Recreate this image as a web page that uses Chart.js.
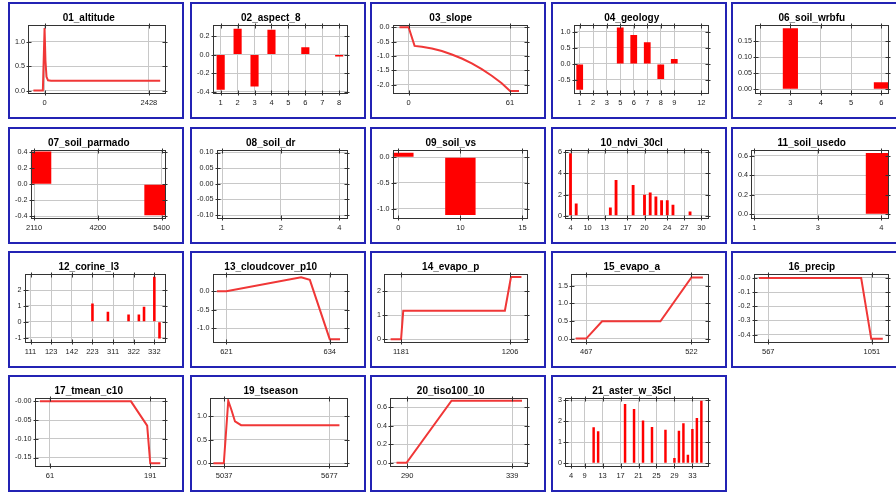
<!DOCTYPE html>
<html><head><meta charset="utf-8">
<script src="https://cdn.jsdelivr.net/npm/chart.js@4/dist/chart.umd.min.js"></script>
<style>
html,body{margin:0;padding:0;width:896px;height:492px;overflow:hidden;background:#fff;}
.panel{position:absolute;width:172px;height:113px;border:2px solid rgb(35,35,180);background:#fff;}
.panel canvas{display:block;}
</style></head><body>
<script>
// ---------- data ----------
// 01_altitude (line)
const altitudeX = [-260, -40, 0, 20, 45, 80, 150, 2690];
const altitudeY = [0, 0, 1.28, 0.62, 0.28, 0.21, 0.2, 0.2];
const altitudeXTicks = [0, 2428];
const altitudeYTicks = [0, 0.5, 1.0];
// 02_aspect_8 (bars)
const aspectCats = ['1','2','3','4','5','6','7','8'];
const aspectVals = [-0.38, 0.28, -0.345, 0.27, 0, 0.08, 0, -0.02];
const aspectTicks = ['1','2','3','4','5','6','7','8'];
const aspectYTicks = [-0.4, -0.2, 0, 0.2];
// 03_slope (line)
const slopeX = [-5.5, 0, 3.6, 8, 14, 20, 26, 32, 38, 44, 50, 56, 61, 66.4];
const slopeY = [0, 0, -0.65, -0.68, -0.74, -0.83, -0.95, -1.09, -1.26, -1.46, -1.69, -1.95, -2.22, -2.22];
const slopeXTicks = [0, 61];
const slopeYTicks = [-2.0, -1.5, -1.0, -0.5, 0];
// 04_geology (bars)
const geologyCats = ['1','2','3','5','6','7','8','9','11','12'];
const geologyVals = [-0.8, 0, 0, 1.13, 0.9, 0.67, -0.47, 0.15, 0, 0];
const geologyTicks = ['1','2','3','5','6','7','8','9','12'];
const geologyYTicks = [-0.5, 0, 0.5, 1.0];
// 06_soil_wrbfu (bars)
const wrbfuCats = ['2','3','4','5','6'];
const wrbfuVals = [0, 0.19, 0, 0, 0.022];
const wrbfuTicks = ['2','3','4','5','6'];
const wrbfuYTicks = [0, 0.05, 0.10, 0.15];
// 07_soil_parmado (bars)
const parmadoCats = ['2110','4200','5400'];
const parmadoVals = [0.41, 0, -0.39];
const parmadoTicks = ['2110','4200','5400'];
const parmadoYTicks = [-0.4, -0.2, 0, 0.2, 0.4];
// 08_soil_dr (bars)
const drCats = ['1','2','4'];
const drVals = [0, 0, 0];
const drTicks = ['1','2','4'];
const drYTicks = [-0.10, -0.05, 0, 0.05, 0.10];
// 09_soil_vs (bars)
const vsCats = ['0','10','15'];
const vsVals = [0.086, -1.12, 0];
const vsTicks = ['0','10','15'];
const vsYTicks = [-1.0, -0.5, 0];
// 10_ndvi_30cl (bars)
const ndviCats = ['4','6','8','10','11','12','13','14','15','16','17','18','19','20','21','22','23','24','25','26','27','28','29','30'];
const ndviVals = [5.9, 1.17, 0, 0, 0, 0, 0, 0.79, 3.38, 0, 0, 2.9, 0, 1.99, 2.2, 1.83, 1.48, 1.48, 1.04, 0, 0, 0.41, 0, 0];
const ndviTicks = ['4','10','13','17','20','24','27','30'];
const ndviYTicks = [0, 2, 4, 6];
// 11_soil_usedo (bars)
const usedoCats = ['1','3','4'];
const usedoVals = [0, 0, 0.63];
const usedoTicks = ['1','3','4'];
const usedoYTicks = [0, 0.2, 0.4, 0.6];
// 12_corine_l3 (bars)
const corineCats = ['111','112','121','122','123','124','131','141','142','211','212','221','223','231','242','243','311','312','313','321','322','323','324','331','332','333'];
const corineVals = [0, 0, 0, 0, 0, 0, 0, 0, 0, 0, 0, 0, 1.16, 0, 0, 0.63, 0, 0, 0, 0.46, 0, 0.46, 0.95, 0, 2.84, -1.05];
const corineTicks = ['111','123','142','223','311','322','332'];
const corineYTicks = [-1, 0, 1, 2];
// 13_cloudcover_p10 (line)
const cloudX = [619.8, 621, 630.4, 631.5, 634, 635.3];
const cloudY = [0, 0, 0.38, 0.31, -1.3, -1.3];
const cloudXTicks = [621, 634];
const cloudYTicks = [-1.0, -0.5, 0];
// 14_evapo_p (line)
const evapoPX = [1178.6, 1181, 1181.5, 1204.8, 1206.2, 1208.6];
const evapoPY = [0, 0, 1.19, 1.19, 2.6, 2.6];
const evapoPXTicks = [1181, 1206];
const evapoPYTicks = [0, 1, 2];
// 15_evapo_a (line)
const evapoAX = [461.5, 467, 475.3, 505.8, 522, 528];
const evapoAY = [0, 0, 0.49, 0.49, 1.73, 1.73];
const evapoAXTicks = [467, 522];
const evapoAYTicks = [0, 0.5, 1.0, 1.5];
// 16_precip (line)
const precipX = [523, 1001, 1048, 1102];
const precipY = [0, 0, -0.43, -0.43];
const precipXTicks = [567, 1051];
const precipYTicks = [-0.4, -0.3, -0.2, -0.1, 0];
// 17_tmean_c10 (line)
const tmeanX = [48, 166, 187, 191, 204];
const tmeanY = [0, 0, -0.065, -0.165, -0.165];
const tmeanXTicks = [61, 191];
const tmeanYTicks = [-0.15, -0.10, -0.05, 0];
// 19_tseason (line)
const tseasonX = [4971, 5035, 5062, 5080, 5103, 5140, 5738];
const tseasonY = [0, 0, 1.33, 1.15, 0.89, 0.81, 0.81];
const tseasonXTicks = [5037, 5677];
const tseasonYTicks = [0, 0.5, 1.0];
// 20_tiso100_10 (line)
const tisoX = [285, 289.7, 310.7, 343.6];
const tisoY = [0, 0, 0.67, 0.67];
const tisoXTicks = [290, 339];
const tisoYTicks = [0, 0.2, 0.4, 0.6];
// 21_aster_w_35cl (bars)
const asterCats = ['4','6','7','9','10','11','12','13','14','15','16','17','18','19','20','21','22','23','24','25','26','27','28','29','30','31','32','33','34','35'];
const asterVals = [0, 0, 0, 0, 0, 1.71, 1.52, 0, 0, 0, 0, 0, 2.82, 0, 2.58, 0, 2.03, 0, 1.72, 0, 0, 1.6, 0, 0.24, 1.55, 1.91, 0.4, 1.63, 2.15, 2.98];
const asterTicks = ['4','9','13','17','21','25','29','33'];
const asterYTicks = [0, 1, 2, 3];

// ---------- panel configuration ----------
const panels = [
  {title:'01_altitude', kind:'line', x:altitudeX, y:altitudeY, xTicks:altitudeXTicks, xMin:-374, xMax:2825, yMin:-0.06, yMax:1.34, yTicks:altitudeYTicks, dec:1},
  {title:'02_aspect_8', kind:'bar', cats:aspectCats, vals:aspectVals, ticks:aspectTicks, xMin:-0.46, xMax:7.52, yMin:-0.42, yMax:0.32, yTicks:aspectYTicks, dec:1, barPct:0.48},
  {title:'03_slope', kind:'line', x:slopeX, y:slopeY, xTicks:slopeXTicks, xMin:-9.45, xMax:71.8, yMin:-2.31, yMax:0.08, yTicks:slopeYTicks, dec:1},
  {title:'04_geology', kind:'bar', cats:geologyCats, vals:geologyVals, ticks:geologyTicks, xMin:-0.43, xMax:9.57, yMin:-0.92, yMax:1.21, yTicks:geologyYTicks, dec:1, barPct:0.5},
  {title:'06_soil_wrbfu', kind:'bar', cats:wrbfuCats, vals:wrbfuVals, ticks:wrbfuTicks, xMin:-0.15, xMax:4.25, yMin:-0.013, yMax:0.2, yTicks:wrbfuYTicks, dec:2, barPct:0.5},
  {title:'07_soil_parmado', kind:'bar', cats:parmadoCats, vals:parmadoVals, ticks:parmadoTicks, xMin:-0.05, xMax:2.07, yMin:-0.43, yMax:0.43, yTicks:parmadoYTicks, dec:1, barPct:0.54},
  {title:'08_soil_dr', kind:'bar', cats:drCats, vals:drVals, ticks:drTicks, xMin:-0.096, xMax:2.15, yMin:-0.111, yMax:0.108, yTicks:drYTicks, dec:2, barPct:0.5},
  {title:'09_soil_vs', kind:'bar', cats:vsCats, vals:vsVals, ticks:vsTicks, xMin:-0.088, xMax:2.09, yMin:-1.19, yMax:0.14, yTicks:vsYTicks, dec:1, barPct:0.49},
  {title:'10_ndvi_30cl', kind:'bar', cats:ndviCats, vals:ndviVals, ticks:ndviTicks, xMin:-0.88, xMax:24.33, yMin:-0.25, yMax:6.2, yTicks:ndviYTicks, dec:0, barPct:0.5},
  {title:'11_soil_usedo', kind:'bar', cats:usedoCats, vals:usedoVals, ticks:usedoTicks, xMin:-0.044, xMax:2.12, yMin:-0.044, yMax:0.66, yTicks:usedoYTicks, dec:1, barPct:0.49},
  {title:'12_corine_l3', kind:'bar', cats:corineCats, vals:corineVals, ticks:corineTicks, xMin:-1.1, xMax:26.26, yMin:-1.3, yMax:3.01, yTicks:corineYTicks, dec:0, barPct:0.5},
  {title:'13_cloudcover_p10', kind:'line', x:cloudX, y:cloudY, xTicks:cloudXTicks, xMin:619.3, xMax:636.3, yMin:-1.39, yMax:0.47, yTicks:cloudYTicks, dec:1},
  {title:'14_evapo_p', kind:'line', x:evapoPX, y:evapoPY, xTicks:evapoPXTicks, xMin:1177.2, xMax:1210.1, yMin:-0.14, yMax:2.73, yTicks:evapoPYTicks, dec:0},
  {title:'15_evapo_a', kind:'line', x:evapoAX, y:evapoAY, xTicks:evapoAXTicks, xMin:459.3, xMax:531.2, yMin:-0.11, yMax:1.83, yTicks:evapoAYTicks, dec:1},
  {title:'16_precip', kind:'line', x:precipX, y:precipY, xTicks:precipXTicks, xMin:499.8, xMax:1131, yMin:-0.456, yMax:0.028, yTicks:precipYTicks, dec:1, negZero:true},
  {title:'17_tmean_c10', kind:'line', x:tmeanX, y:tmeanY, xTicks:tmeanXTicks, xMin:41.5, xMax:211.4, yMin:-0.174, yMax:0.009, yTicks:tmeanYTicks, dec:2, negZero:true},
  {title:'19_tseason', kind:'line', x:tseasonX, y:tseasonY, xTicks:tseasonXTicks, xMin:4954, xMax:5790, yMin:-0.07, yMax:1.39, yTicks:tseasonYTicks, dec:1},
  {title:'20_tiso100_10', kind:'line', x:tisoX, y:tisoY, xTicks:tisoXTicks, xMin:282.2, xMax:346.4, yMin:-0.04, yMax:0.70, yTicks:tisoYTicks, dec:1},
  {title:'21_aster_w_35cl', kind:'bar', cats:asterCats, vals:asterVals, ticks:asterTicks, xMin:-1.27, xMax:30.7, yMin:-0.16, yMax:3.11, yTicks:asterYTicks, dec:0, barPct:0.55}
];

const FONT = "'Liberation Sans', Arial, sans-serif";
const colLeft = [8, 190, 370, 551, 731];
const rowTop = [2, 127, 251, 375];

function fmt(v, p) {
  if (Math.abs(v) < 1e-9) return (p.negZero ? '-' : '') + (0).toFixed(p.dec);
  return Number(v).toFixed(p.dec);
}

const framePlugin = {
  id: 'frame',
  afterDraw(chart) {
    const ctx = chart.ctx, a = chart.chartArea, xs = chart.scales.x, ys = chart.scales.y;
    ctx.save();
    ctx.strokeStyle = '#333';
    ctx.lineWidth = 1;
    const L = Math.round(a.left) + 0.5, R = Math.round(a.right) - 0.5;
    const T = Math.round(a.top) + 0.5, B = Math.round(a.bottom) - 0.5;
    ctx.strokeRect(L, T, R - L, B - T);
    ctx.beginPath();
    const tin = 3, tout = 2;
    xs.ticks.forEach(t => {
      const px = Math.round(xs.getPixelForValue(t.value)) + 0.5;
      ctx.moveTo(px, T - tout); ctx.lineTo(px, T + tin);
      ctx.moveTo(px, B + tout); ctx.lineTo(px, B - tin);
    });
    ys.ticks.forEach(t => {
      const py = Math.round(ys.getPixelForValue(t.value)) + 0.5;
      ctx.moveTo(L - tout, py); ctx.lineTo(L + tin, py);
      ctx.moveTo(R + tout, py); ctx.lineTo(R - tin, py);
    });
    ctx.stroke();
    ctx.restore();
  }
};

panels.forEach((p, idx) => {
  const div = document.createElement('div');
  div.className = 'panel';
  div.style.left = colLeft[idx % 5] + 'px';
  div.style.top = rowTop[Math.floor(idx / 5)] + 'px';
  const cv = document.createElement('canvas');
  cv.width = 172; cv.height = 113;
  cv.style.width = '172px'; cv.style.height = '113px';
  div.appendChild(cv);
  document.body.appendChild(div);

  let data, xTickVals, xLabelFor, ds;
  if (p.kind === 'bar') {
    data = p.vals.map((v, i) => ({x: i, y: v}));
    xTickVals = p.ticks.map(t => p.cats.indexOf(t));
    xLabelFor = v => p.cats[Math.round(v)];
    ds = {type: 'bar', data, backgroundColor: '#ff0000', borderWidth: 0,
          barPercentage: p.barPct, categoryPercentage: 1, clip: 0};
  } else {
    data = p.x.map((x, i) => ({x, y: p.y[i]}));
    xTickVals = p.xTicks;
    xLabelFor = v => String(v);
    ds = {type: 'line', data, borderColor: 'rgb(240,55,55)', borderWidth: 2,
          pointRadius: 0, tension: 0, fill: false, clip: 0};
  }

  new Chart(cv, {
    type: p.kind,
    data: {datasets: [ds]},
    options: {
      responsive: false, animation: false, events: [],
      layout: {padding: {left: 1.5, right: 16, top: 0, bottom: 4.5}},
      plugins: {
        legend: {display: false}, tooltip: {enabled: false},
        title: {display: true, text: p.title, color: '#000',
                font: {family: FONT, size: 10, weight: 'bold', lineHeight: 1.2},
                padding: {top: 8, bottom: 1}}
      },
      scales: {
        x: {type: 'linear', min: p.xMin, max: p.xMax, offset: false,
            grid: {offset: false, color: '#c8c8c8', drawTicks: false},
            border: {display: false},
            afterBuildTicks: ax => { ax.ticks = xTickVals.map(v => ({value: v})); },
            ticks: {autoSkip: false, maxRotation: 0, minRotation: 0, padding: 5, color: '#222',
                    font: {family: FONT, size: 7.5}, callback: v => xLabelFor(v)}},
        y: {type: 'linear', min: p.yMin, max: p.yMax,
            grid: {color: '#c8c8c8', drawTicks: false},
            border: {display: false},
            afterBuildTicks: ax => { ax.ticks = p.yTicks.map(v => ({value: v})); },
            ticks: {autoSkip: false, padding: 3.5, color: '#222',
                    font: {family: FONT, size: 7.2}, callback: v => fmt(v, p)}}
      }
    },
    plugins: [framePlugin]
  });
});
</script>
</body></html>
